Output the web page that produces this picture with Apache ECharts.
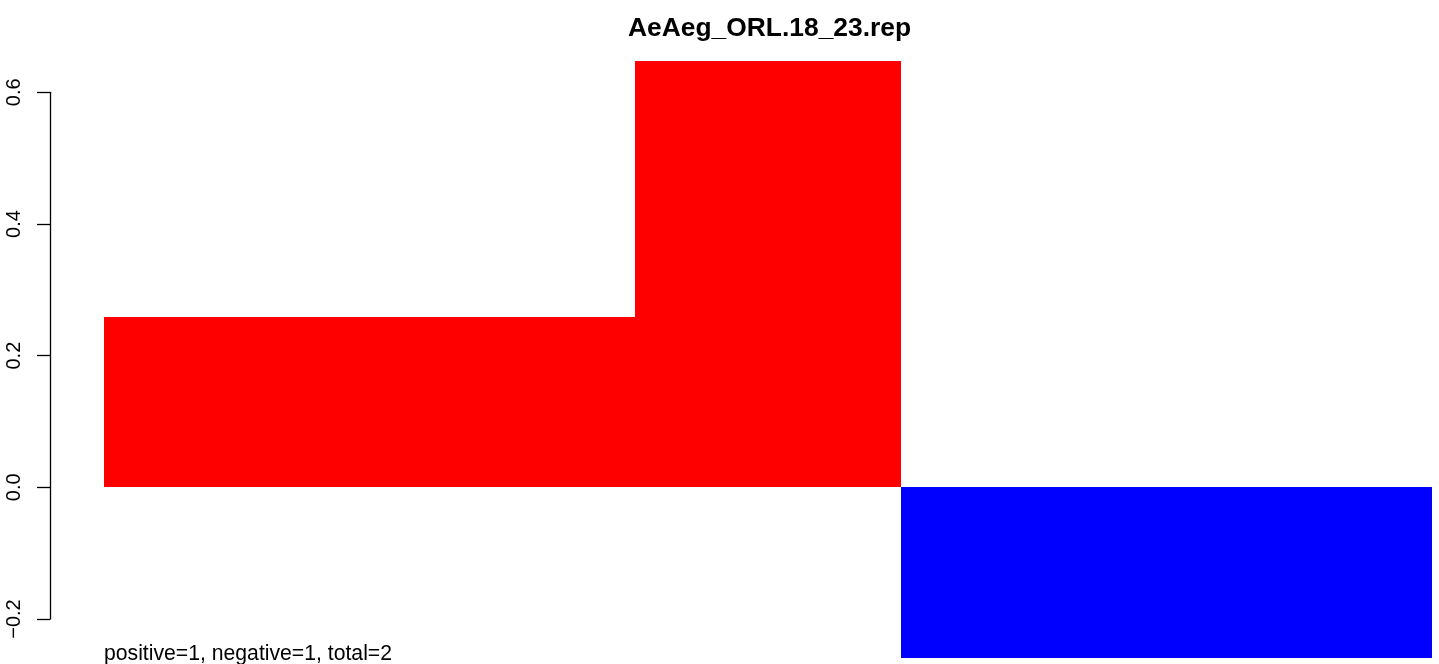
<!DOCTYPE html>
<html>
<head>
<meta charset="utf-8">
<script src="https://cdn.jsdelivr.net/npm/echarts@6/dist/echarts.min.js"></script>
<style>
  html, body { margin: 0; padding: 0; background: #ffffff; }
  #chart { width: 1439px; height: 664px; }
</style>
</head>
<body>
<div id="chart"></div>
<script>
// Region widths (relative) and score of each region, left to right
const segmentWidths = [2, 1, 2];
const scores = [0.259, 0.648, -0.259];
const yTicks = [-0.2, 0.0, 0.2, 0.4, 0.6];
const chartTitle = 'AeAeg_ORL.18_23.rep';
const footerText = 'positive=1, negative=1, total=2';

const FONT = '"Liberation Sans", Arial, sans-serif';

// cumulative start positions for each region
const starts = [];
let acc = 0;
segmentWidths.forEach(function (w) { starts.push(acc); acc += w; });
const totalWidth = acc;

const barData = scores.map(function (v, i) {
  return [starts[i], starts[i] + segmentWidths[i], v];
});

const chart = echarts.init(document.getElementById('chart'), null, { renderer: 'canvas' });

chart.setOption({
  backgroundColor: '#ffffff',
  animation: false,
  title: [
    {
      text: chartTitle,
      left: 623,
      top: 11,
      textStyle: { fontFamily: FONT, fontSize: 26.4, fontWeight: 'bold', color: '#000000' }
    },
    {
      text: footerText,
      left: 99,
      top: 639,
      textStyle: { fontFamily: FONT, fontSize: 21.2, fontWeight: 'normal', color: '#000000' }
    }
  ],
  grid: { left: 104, right: 7, top: 92.3, bottom: 45, containLabel: false },
  xAxis: {
    type: 'value',
    min: 0,
    max: totalWidth,
    show: false
  },
  yAxis: {
    type: 'value',
    min: yTicks[0],
    max: yTicks[yTicks.length - 1],
    interval: 0.2,
    offset: 54,
    axisLine: { show: true, onZero: false, lineStyle: { color: '#000000', width: 1.3 } },
    axisTick: { show: true, length: 13, lineStyle: { color: '#000000', width: 1.3 } },
    splitLine: { show: false },
    axisLabel: {
      rotate: 90,
      margin: 26,
      fontFamily: FONT,
      fontSize: 20,
      color: '#000000',
      formatter: function (v) { return v.toFixed(1).replace('-', '\u2212'); }
    }
  },
  series: [
    {
      type: 'custom',
      clip: false,
      data: barData,
      renderItem: function (params, api) {
        const x0 = api.value(0), x1 = api.value(1), v = api.value(2);
        const p0 = api.coord([x0, 0]);
        const p1 = api.coord([x1, v]);
        const left = Math.round(p0[0]), right = Math.round(p1[0]);
        const top = Math.round(Math.min(p0[1], p1[1]));
        const bottom = Math.round(Math.max(p0[1], p1[1]));
        return {
          type: 'rect',
          shape: { x: left, y: top, width: right - left, height: bottom - top },
          style: { fill: v >= 0 ? '#ff0000' : '#0000ff' }
        };
      }
    }
  ]
});
</script>
</body>
</html>
